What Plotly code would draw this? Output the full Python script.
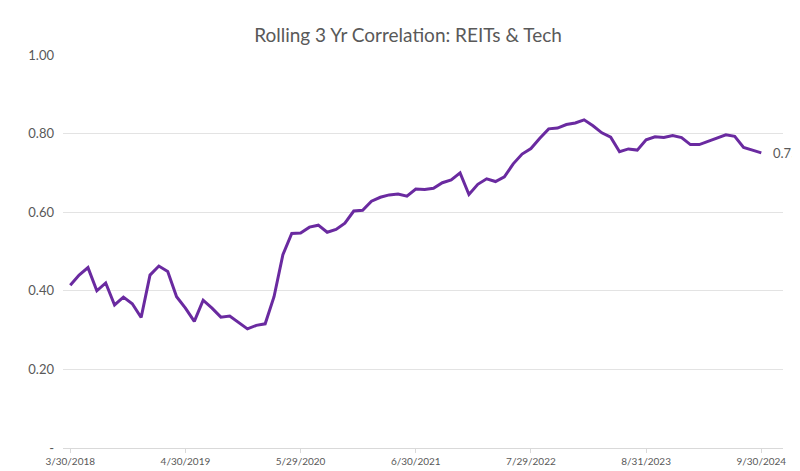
import plotly.graph_objects as go
import pandas as pd

# dates: month-end business days 3/30/2018 .. 9/30/2024
dates = pd.date_range("2018-03-01", "2024-09-30", freq="BME")
date_labels = [f"{d.month}/{d.day}/{d.year}" for d in dates]

correlation = [
    0.414, 0.440, 0.459, 0.400, 0.420, 0.364, 0.384, 0.367, 0.332, 0.440,
    0.463, 0.449, 0.385, 0.356, 0.322, 0.376, 0.356, 0.333, 0.336, 0.320,
    0.303, 0.312, 0.316, 0.385, 0.492, 0.546, 0.547, 0.562, 0.567, 0.549,
    0.556, 0.572, 0.603, 0.605, 0.628, 0.638, 0.644, 0.646, 0.641, 0.659,
    0.658, 0.661, 0.675, 0.682, 0.700, 0.645, 0.671, 0.685, 0.678, 0.690,
    0.723, 0.748, 0.762, 0.788, 0.812, 0.814, 0.823, 0.827, 0.835, 0.820,
    0.802, 0.791, 0.754, 0.761, 0.758, 0.784, 0.792, 0.790, 0.795, 0.790,
    0.772, 0.772, 0.780, 0.789, 0.797, 0.793, 0.765, 0.758, 0.751,
]

y_ticks = [0, 0.2, 0.4, 0.6, 0.8, 1.0]
y_tick_labels = ["-", "0.20", "0.40", "0.60", "0.80", "1.00"]

fig = go.Figure()
fig.add_trace(go.Scatter(
    x=date_labels, y=correlation, mode="lines",
    line=dict(color="#6a2aa0", width=3),
))

# étiquette de la dernière valeur
fig.add_annotation(
    x=date_labels[-1], y=correlation[-1], text=f"{correlation[-1]:.2f}",
    showarrow=False, xanchor="left", xshift=10,
    font=dict(size=13, color="#595959"),
)

fig.update_layout(
    title=dict(text="Rolling 3 Yr Correlation: REITs & Tech", x=0.5, y=0.955,
               font=dict(size=19, color="#595959")),
    width=800, height=471,
    plot_bgcolor="white", paper_bgcolor="white",
    margin=dict(l=55, r=25, t=47, b=24),
    showlegend=False,
    font=dict(family="Lato, Open Sans, sans-serif", color="#595959"),
)
fig.update_xaxes(
    type="category", tickvals=date_labels[::13], ticktext=date_labels[::13],
    showgrid=False, showline=True, linecolor="#d9d9d9", ticks="outside",
    tickcolor="#d9d9d9", ticklen=4, tickfont=dict(size=10), range=[-0.82, 80.45],
)
fig.update_yaxes(
    range=[0, 1.0], tickvals=y_ticks, ticktext=y_tick_labels,
    showgrid=True, gridcolor="#e3e3e3", zeroline=False,
    tickfont=dict(size=13), ticks="", ticklabelstandoff=8,
)

fig.write_html("out.html")
